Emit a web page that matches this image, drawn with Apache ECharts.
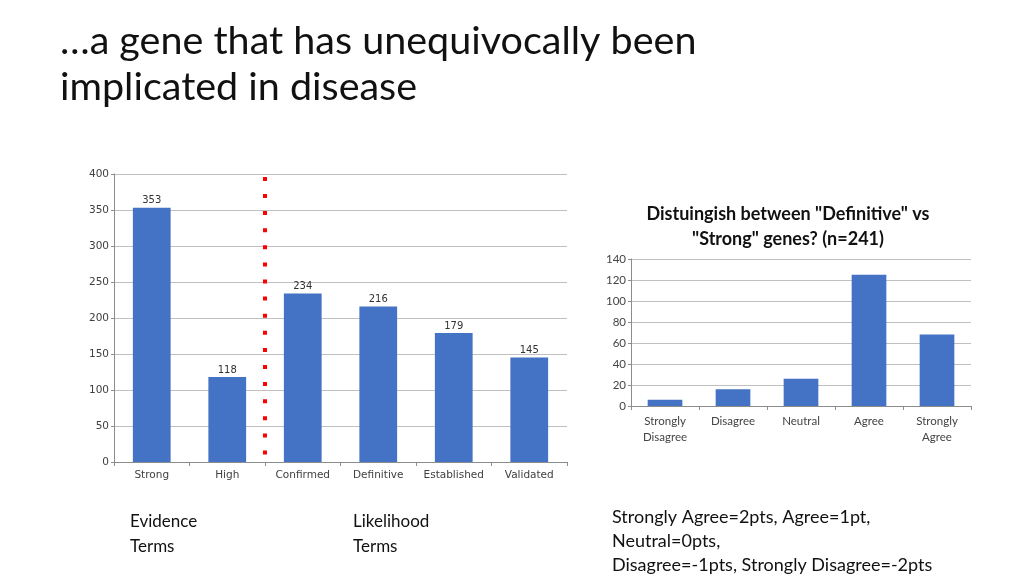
<!DOCTYPE html>
<html>
<head>
<meta charset="utf-8">
<style>
  html, body { margin: 0; padding: 0; background: #fff; }
  #main { width: 1024px; height: 576px; }
</style>
<script src="https://cdn.jsdelivr.net/npm/echarts/dist/echarts.min.js"></script>
</head>
<body>
<div id="main"></div>
<script>
// left chart: evidence / likelihood terms
const termNames = ['Strong', 'High', 'Confirmed', 'Definitive', 'Established', 'Validated'];
const termCounts = [353, 118, 234, 216, 179, 145];
const termTicks = [0, 50, 100, 150, 200, 250, 300, 350, 400];
// red dotted divider between the two groups (category boundary, y extent)
const dividerAt = 2;
const dividerSpan = [396, 10];

// right chart: definitive vs strong survey
const answerNames = ['Strongly\nDisagree', 'Disagree', 'Neutral', 'Agree', 'Strongly\nAgree'];
const answerCounts = [6, 16, 26, 125, 68];
const answerTicks = [0, 20, 40, 60, 80, 100, 120, 140];

const chart = echarts.init(document.getElementById('main'));
const blue = '#4472c4';
const gridColor = '#c0c0c0';
const axisColor = '#8c8c8c';
const txt = 'Lato, "Open Sans", sans-serif';

const option = {
	backgroundColor: '#ffffff',
	animation: false,
	title: [
		{
			text: '…a gene that has unequivocally been\nimplicated in disease',
			left: 60, top: 18, padding: 0,
			textStyle: { fontFamily: txt, fontSize: 39.5, fontWeight: 'normal', color: '#111', lineHeight: 46 }
		},
		{
			text: 'Distuingish between "Definitive" vs\n"Strong" genes? (n=241)',
			left: 788, top: 202, textAlign: 'center', padding: 0,
			textStyle: { fontFamily: txt, fontSize: 18, fontWeight: 'bold', color: '#111', lineHeight: 25 }
		},
		{
			text: 'Evidence\nTerms',
			left: 130, top: 509, padding: 0,
			textStyle: { fontFamily: txt, fontSize: 17, fontWeight: 'normal', color: '#111', lineHeight: 25 }
		},
		{
			text: 'Likelihood\nTerms',
			left: 353, top: 509, padding: 0,
			textStyle: { fontFamily: txt, fontSize: 17, fontWeight: 'normal', color: '#111', lineHeight: 25 }
		},
		{
			text: 'Strongly Agree=2pts, Agree=1pt,\nNeutral=0pts,\nDisagree=-1pts, Strongly Disagree=-2pts',
			left: 612, top: 505, padding: 0,
			textStyle: { fontFamily: txt, fontSize: 18, fontWeight: 'normal', color: '#111', lineHeight: 24 }
		}
	],
	grid: [
		{ left: 114, top: 174, width: 453, height: 288, containLabel: false, outerBoundsMode: 'none' },
		{ left: 631, top: 259, width: 340, height: 147, containLabel: false, outerBoundsMode: 'none' }
	],
	xAxis: [
		{
			type: 'category', gridIndex: 0, data: termNames,
			axisLine: { lineStyle: { color: axisColor } },
			axisTick: { show: true, interval: 0, length: 4, lineStyle: { color: axisColor } },
			axisLabel: { interval: 0, fontFamily: 'DejaVu Sans', fontSize: 10.5, color: '#404040', margin: 8 }
		},
		{
			type: 'value', gridIndex: 0, min: 0, max: termNames.length, show: false
		},
		{
			type: 'category', gridIndex: 1, data: answerNames,
			axisLine: { lineStyle: { color: axisColor } },
			axisTick: { show: true, interval: 0, length: 4, lineStyle: { color: axisColor } },
			axisLabel: { interval: 0, fontFamily: txt, fontSize: 11.5, color: '#444', margin: 7, lineHeight: 16 }
		}
	],
	yAxis: [
		{
			type: 'value', gridIndex: 0,
			min: termTicks[0], max: termTicks[termTicks.length - 1], interval: termTicks[1] - termTicks[0],
			axisLine: { show: true, lineStyle: { color: axisColor } },
			axisTick: { show: true, length: 3, lineStyle: { color: axisColor } },
			splitLine: { lineStyle: { color: gridColor } },
			axisLabel: { fontFamily: 'DejaVu Sans', fontSize: 10.5, color: '#404040', margin: 5 }
		},
		{
			type: 'value', gridIndex: 1,
			min: answerTicks[0], max: answerTicks[answerTicks.length - 1], interval: answerTicks[1] - answerTicks[0],
			axisLine: { show: true, lineStyle: { color: axisColor } },
			axisTick: { show: true, length: 3, lineStyle: { color: axisColor } },
			splitLine: { lineStyle: { color: gridColor } },
			axisLabel: { fontFamily: txt, fontSize: 11.5, color: '#444', margin: 5 }
		}
	],
	series: [
		{
			type: 'bar', xAxisIndex: 0, yAxisIndex: 0,
			data: termCounts, barWidth: '50%',
			itemStyle: { color: blue },
			label: { show: true, position: 'top', distance: 2, fontFamily: 'DejaVu Sans', fontSize: 10, color: '#333' }
		},
		{
			// divider
			type: 'line', xAxisIndex: 1, yAxisIndex: 0,
			data: [[dividerAt, dividerSpan[0]], [dividerAt, dividerSpan[1]]],
			showSymbol: false, silent: true,
			lineStyle: { color: '#ff0000', width: 4, type: [4, 13.1], cap: 'butt' },
			z: 5
		},
		{
			type: 'bar', xAxisIndex: 2, yAxisIndex: 1,
			data: answerCounts, barWidth: '51%',
			itemStyle: { color: blue }
		}
	]
};

chart.setOption(option);
</script>
</body>
</html>
